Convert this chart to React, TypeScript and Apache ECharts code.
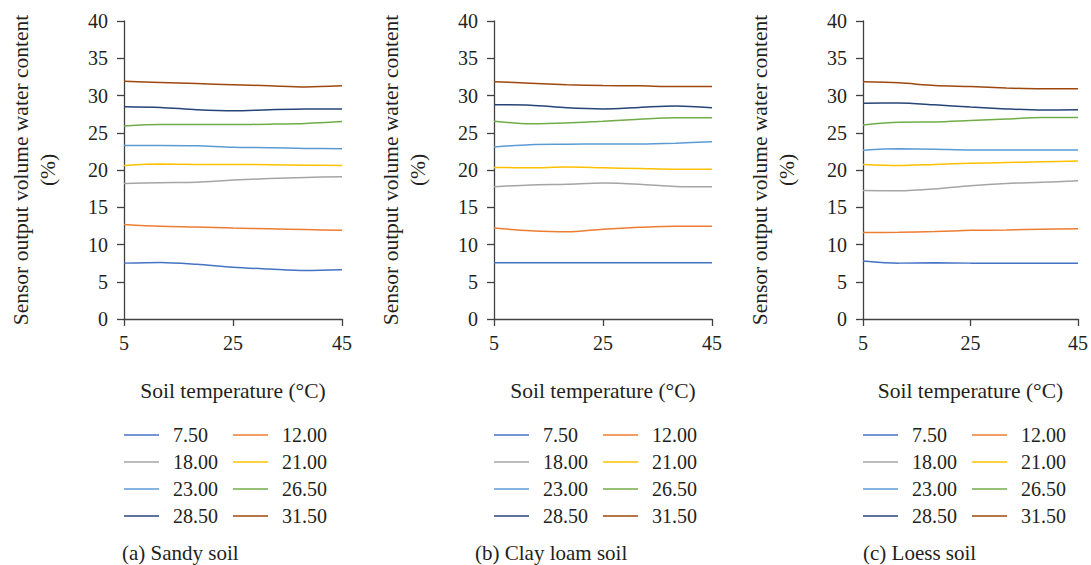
import React, { useEffect, useRef } from "react";
import * as echarts from "echarts";

const temperatures = ["5", "12", "18", "25", "32", "38", "45"];
const seriesNames = ["7.50", "12.00", "18.00", "21.00", "23.00", "26.50", "28.50", "31.50"];
const seriesColors = ["#4472C4", "#ED7D31", "#A5A5A5", "#FFC000", "#5B9BD5", "#70AD47", "#264478", "#9E480E"];

// (a) Sandy soil
const sandy750 = [7.5, 7.6, 7.35, 6.95, 6.7, 6.5, 6.6];
const sandy1200 = [12.7, 12.45, 12.35, 12.2, 12.1, 12.0, 11.9];
const sandy1800 = [18.2, 18.3, 18.35, 18.65, 18.85, 19.0, 19.1];
const sandy2100 = [20.6, 20.8, 20.75, 20.75, 20.7, 20.65, 20.6];
const sandy2300 = [23.3, 23.3, 23.25, 23.05, 23.0, 22.9, 22.85];
const sandy2650 = [25.9, 26.1, 26.1, 26.1, 26.15, 26.25, 26.5];
const sandy2850 = [28.5, 28.4, 28.1, 27.95, 28.1, 28.2, 28.2];
const sandy3150 = [31.9, 31.75, 31.6, 31.45, 31.3, 31.15, 31.3];

// (b) Clay loam soil
const clay750 = [7.55, 7.55, 7.55, 7.55, 7.55, 7.55, 7.55];
const clay1200 = [12.2, 11.85, 11.7, 12.05, 12.3, 12.45, 12.45];
const clay1800 = [17.75, 18.0, 18.1, 18.25, 18.1, 17.8, 17.75];
const clay2100 = [20.35, 20.3, 20.4, 20.3, 20.2, 20.1, 20.1];
const clay2300 = [23.1, 23.4, 23.45, 23.5, 23.5, 23.6, 23.8];
const clay2650 = [26.55, 26.2, 26.3, 26.55, 26.8, 27.0, 27.0];
const clay2850 = [28.75, 28.7, 28.35, 28.2, 28.4, 28.6, 28.35];
const clay3150 = [31.85, 31.65, 31.45, 31.35, 31.3, 31.2, 31.2];

// (c) Loess soil
const loess750 = [7.8, 7.5, 7.55, 7.5, 7.5, 7.5, 7.5];
const loess1200 = [11.6, 11.65, 11.75, 11.9, 11.95, 12.05, 12.1];
const loess1800 = [17.25, 17.2, 17.45, 17.9, 18.2, 18.35, 18.55];
const loess2100 = [20.75, 20.6, 20.75, 20.9, 21.0, 21.1, 21.2];
const loess2300 = [22.65, 22.85, 22.8, 22.7, 22.7, 22.7, 22.7];
const loess2650 = [26.05, 26.4, 26.45, 26.65, 26.85, 27.05, 27.05];
const loess2850 = [28.95, 29.0, 28.75, 28.45, 28.2, 28.05, 28.1];
const loess3150 = [31.85, 31.7, 31.35, 31.2, 31.0, 30.9, 30.9];

const panels = [
  { caption: "(a) Sandy soil", data: [sandy750, sandy1200, sandy1800, sandy2100, sandy2300, sandy2650, sandy2850, sandy3150] },
  { caption: "(b) Clay loam soil", data: [clay750, clay1200, clay1800, clay2100, clay2300, clay2650, clay2850, clay3150] },
  { caption: "(c) Loess soil", data: [loess750, loess1200, loess1800, loess2100, loess2300, loess2650, loess2850, loess3150] },
];

const yTicks = { min: 0, max: 40, interval: 5 };
const xAxisTitle = "Soil temperature (°C)";
const yAxisTitle = "Sensor output volume water content\n(%)";

const FONT = "Liberation Serif";
const TEXT = "#231f20";
const AXIS = "#404040";

const gridLefts = [124, 494, 863];
const captionLefts = [122, 475, 863];

export default function App() {
  const ref = useRef<HTMLDivElement>(null);
  useEffect(() => {
    if (!ref.current) return;
    const chart = echarts.init(ref.current, undefined, { renderer: "svg" });
    const grids: any[] = [];
    const xAxes: any[] = [];
    const yAxes: any[] = [];
    const series: any[] = [];
    const legends: any[] = [];
    const titles: any[] = [];
    panels.forEach((p, i) => {
      grids.push({ left: gridLefts[i], top: 21, width: 218, height: 298 });
      xAxes.push({
        type: "category",
        gridIndex: i,
        data: temperatures,
        boundaryGap: false,
        name: xAxisTitle,
        nameLocation: "middle",
        nameGap: 61,
        nameTextStyle: { fontFamily: FONT, fontSize: 21.5, color: TEXT },
        axisLine: { lineStyle: { color: AXIS, width: 1.3 } },
        axisTick: { show: true, interval: 2, length: 7, lineStyle: { color: AXIS, width: 1.3 } },
        axisLabel: { interval: 2, fontFamily: FONT, fontSize: 20, color: TEXT, margin: 14 },
        splitLine: { show: false },
      });
      yAxes.push({
        type: "value",
        gridIndex: i,
        min: yTicks.min,
        max: yTicks.max,
        interval: yTicks.interval,
        name: yAxisTitle,
        nameLocation: "middle",
        nameGap: 63,
        nameTextStyle: { fontFamily: FONT, fontSize: 21.5, color: TEXT, lineHeight: 27 },
        axisLine: { show: true, lineStyle: { color: AXIS, width: 1.3 } },
        axisTick: { show: true, length: 7, lineStyle: { color: AXIS, width: 1.3 } },
        axisLabel: { fontFamily: FONT, fontSize: 20, color: TEXT, margin: 16 },
        splitLine: { show: false },
      });
      p.data.forEach((vals, k) => {
        series.push({
          type: "line",
          name: seriesNames[k],
          xAxisIndex: i,
          yAxisIndex: i,
          data: vals,
          smooth: 0.3,
          symbol: "none",
          showSymbol: false,
          color: seriesColors[k],
          lineStyle: { width: 1.5, color: seriesColors[k] },
        });
      });
      legends.push({
        data: seriesNames,
        left: gridLefts[i],
        top: 425,
        width: 215,
        orient: "horizontal",
        padding: 0,
        itemGap: 7,
        itemWidth: 35,
        itemHeight: 1.6,
        icon: "rect",
        textStyle: { fontFamily: FONT, fontSize: 20, color: TEXT, width: 53, lineHeight: 17, padding: [0, 0, 0, 9] },
      });
      titles.push({
        text: p.caption,
        left: captionLefts[i],
        top: 542,
        padding: 0,
        textStyle: { fontFamily: FONT, fontSize: 21, fontWeight: "normal", color: TEXT },
      });
    });
    chart.setOption({
      animation: false,
      backgroundColor: "#ffffff",
      textStyle: { fontFamily: FONT },
      title: titles,
      grid: grids,
      xAxis: xAxes,
      yAxis: yAxes,
      legend: legends,
      series,
    });
    return () => chart.dispose();
  }, []);
  return (
    <div
      ref={ref}
      style={{ position: "fixed", left: 0, top: 0, width: 1091, height: 565 }}
    />
  );
}
